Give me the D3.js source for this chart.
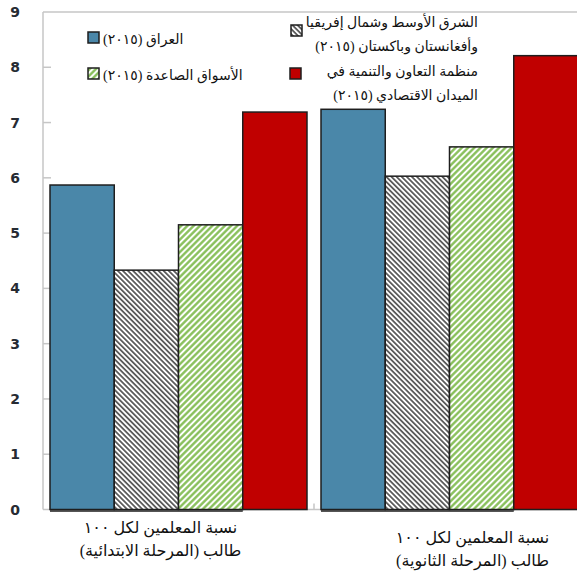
<!DOCTYPE html>
<html lang="ar">
<head>
<meta charset="utf-8">
<script src="https://cdn.jsdelivr.net/npm/d3@7"></script>
<style>
  html, body { margin: 0; padding: 0; background: #fff; }
  svg { display: block; }
  .ar { font-family: "Times New Roman", "Liberation Serif", "DejaVu Serif", "DejaVu Sans", serif; fill: #111; }
  .ytick { font-family: Tahoma, Verdana, "DejaVu Sans", sans-serif; font-weight: bold; font-size: 14px; fill: #262b33; }
</style>
</head>
<body>
<svg id="chart" width="577" height="571"></svg>
<script>
// Teachers per 100 students, primary and secondary, 2015
const categories = [
  ["نسبة المعلمين لكل ١٠٠", "طالب (المرحلة الابتدائية)"],
  ["نسبة المعلمين لكل ١٠٠", "طالب (المرحلة الثانوية)"]
];
const seriesNames = [
  ["العراق (٢٠١٥)"],
  ["الشرق الأوسط وشمال إفريقيا", "وأفغانستان وباكستان (٢٠١٥)"],
  ["الأسواق الصاعدة (٢٠١٥)"],
  ["منظمة التعاون والتنمية في", "الميدان الاقتصادي (٢٠١٥)"]
];
const iraq   = [5.87, 7.24];
const mena   = [4.33, 6.03];
const emerg  = [5.15, 6.56];
const oecd   = [7.19, 8.21];
const yTicks = [0, 1, 2, 3, 4, 5, 6, 7, 8, 9];

const series = [iraq, mena, emerg, oecd];
const fills = ["#4a87a9", "url(#hatchDark)", "url(#hatchGreen)", "#c00000"];

const svg = d3.select("#chart");
const W = 577;
const plot = { left: 43, top: 12, right: 585, bottom: 509.5 };

const y = d3.scaleLinear().domain([0, 9]).range([plot.bottom, plot.top]);
const x0 = d3.scaleBand().domain(d3.range(categories.length)).range([plot.left, plot.right]).padding(0);
const x1 = d3.scaleBand().domain(d3.range(series.length))
  .range([7, x0.bandwidth() - 7]).padding(0);

// hatch patterns
const defs = svg.append("defs");
function hatch(id, angle, size, color, width) {
  const p = defs.append("pattern").attr("id", id)
    .attr("patternUnits", "userSpaceOnUse")
    .attr("width", size).attr("height", size)
    .attr("patternTransform", `rotate(${angle})`);
  p.append("rect").attr("width", size).attr("height", size).attr("fill", "#fff");
  p.append("line").attr("x1", size / 2).attr("y1", 0).attr("x2", size / 2).attr("y2", size)
    .attr("stroke", color).attr("stroke-width", width);
}
hatch("hatchDark", -45, 3.6, "#3c3c3c", 1.5);
hatch("hatchGreen", 45, 4.4, "#84bd55", 2.3);

// frame: top border, left axis, bottom line
const grid = svg.append("g").attr("stroke", "#c6c6c6").attr("stroke-width", 1.5).attr("fill", "none");
grid.append("line").attr("x1", plot.left).attr("x2", W).attr("y1", plot.top).attr("y2", plot.top);
grid.append("line").attr("x1", plot.left).attr("x2", plot.left).attr("y1", plot.top).attr("y2", plot.bottom);
grid.append("line").attr("x1", plot.left).attr("x2", W).attr("y1", plot.bottom).attr("y2", plot.bottom);
grid.append("line").attr("x1", x0(1)).attr("x2", x0(1)).attr("y1", plot.bottom).attr("y2", plot.bottom - 6);

// y axis ticks and labels
const yAxis = svg.append("g");
yAxis.selectAll("line.t").data(yTicks.filter(d => d > 0 && d < 9)).join("line")
  .attr("x1", plot.left).attr("x2", plot.left + 8)
  .attr("y1", d => y(d)).attr("y2", d => y(d))
  .attr("stroke", "#c6c6c6").attr("stroke-width", 1.5);
yAxis.selectAll("text").data(yTicks).join("text")
  .attr("class", "ytick")
  .attr("x", 15).attr("y", d => y(d) + 5)
  .attr("text-anchor", "middle")
  .text(d => d);

// bar groups, one per category
const groups = svg.selectAll("g.grp").data(categories).join("g")
  .attr("class", "grp")
  .attr("transform", (d, i) => `translate(${x0(i)},0)`);

// shadow line under bars
groups.append("line")
  .attr("x1", x1(0)).attr("x2", x1(2) + x1.bandwidth())
  .attr("y1", plot.bottom + 1.5).attr("y2", plot.bottom + 1.5)
  .attr("stroke", "#555").attr("stroke-width", 2);

groups.selectAll("rect").data((d, i) => series.map((s, k) => ({ k, v: s[i] }))).join("rect")
  .attr("x", d => x1(d.k))
  .attr("y", d => y(d.v))
  .attr("width", x1.bandwidth())
  .attr("height", d => plot.bottom - y(d.v))
  .attr("fill", d => fills[d.k])
  .attr("stroke", "#1e1e1e")
  .attr("stroke-width", 1.5);

// category labels
const catPos = [{ dx: -18, y: 533 }, { dx: 23, y: 543 }];
groups.each(function (lines, i) {
  const t = d3.select(this).append("text")
    .attr("class", "ar")
    .attr("direction", "rtl")
    .attr("text-anchor", "middle")
    .attr("font-size", 16);
  lines.forEach((ln, j) => {
    t.append("tspan").attr("x", x0.bandwidth() / 2 + catPos[i].dx)
      .attr("y", catPos[i].y + j * 23).text(ln);
  });
});

// legend: left column text sits right after its swatch,
// right column text is right-aligned to a common edge
const legendLayout = [
  { sx: 88, sy: 32, tx: 103, ty: 44, anchor: "end" },
  { sx: 291, sy: 25, tx: 478, ty: 27, anchor: "start" },
  { sx: 88, sy: 68, tx: 103, ty: 80, anchor: "end" },
  { sx: 290, sy: 68, tx: 478, ty: 76, anchor: "start" }
];
const legend = svg.append("g");
seriesNames.forEach((lines, k) => {
  const L = legendLayout[k];
  legend.append("rect")
    .attr("x", L.sx).attr("y", L.sy).attr("width", 11).attr("height", 11)
    .attr("fill", fills[k]).attr("stroke", "#1e1e1e").attr("stroke-width", 1.5);
  const t = legend.append("text")
    .attr("class", "ar")
    .attr("direction", "rtl")
    .attr("text-anchor", L.anchor)
    .attr("font-size", 14);
  lines.forEach((ln, j) => {
    t.append("tspan").attr("x", L.tx).attr("y", L.ty + j * 23.5).text(ln);
  });
});
</script>
</body>
</html>
